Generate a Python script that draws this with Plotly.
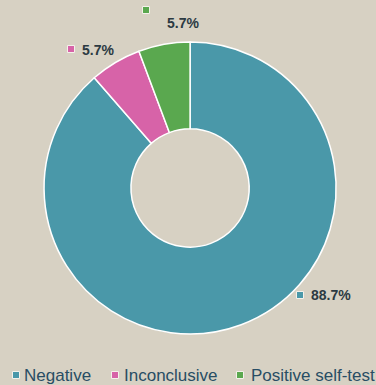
import plotly.graph_objects as go

categories = ["Negative", "Inconclusive", "Positive self-test"]
shares = [88.7, 5.7, 5.7]
colors = ["#4a98a9", "#d763a8", "#5aa84f"]

BG = "#d7d1c3"
LABEL_COLOR = "#2c3a42"
LEGEND_COLOR = "#284d64"

W, H = 376, 385

fig = go.Figure(
    go.Pie(
        labels=categories,
        values=shares,
        sort=False,
        direction="clockwise",
        rotation=0,
        hole=0.405,
        marker=dict(colors=colors, line=dict(color="white", width=1.5)),
        textinfo="none",
        hoverinfo="label+value",
        domain=dict(x=[0.117, 0.894], y=[0.1325, 0.891]),
        showlegend=False,
    )
)


def px(x):
    return x / W


def py(y):
    return 1 - y / H


def key_square(cx, cy, col, size=7):
    # small colour key with a thin light outline, sized in pixels
    fig.add_shape(
        type="rect", xref="paper", yref="paper",
        xsizemode="pixel", ysizemode="pixel",
        xanchor=px(cx), yanchor=py(cy),
        x0=-size / 2, x1=size / 2, y0=-size / 2, y1=size / 2,
        fillcolor=col, line=dict(color="#f4f1ea", width=1),
    )


# value labels, each with its colour key: (square cx, cy, text cx, cy) in px
label_spots = [
    (300, 295, 331, 295),
    (71, 49, 98, 50),
    (146, 10, 183, 23),
]
for val, col, (sx, sy, tx, ty) in zip(shares, colors, label_spots):
    key_square(sx, sy, col)
    fig.add_annotation(
        x=px(tx), y=py(ty), xref="paper", yref="paper", showarrow=False,
        text=f"<b>{val}%</b>",
        font=dict(size=14, color=LABEL_COLOR, family="Liberation Sans"),
        xanchor="center", yanchor="middle",
    )

# horizontal key along the bottom: (square cx, text left) in px
legend_spots = [(16, 22), (115, 122), (240, 249)]
for cat, col, (sx, tx) in zip(categories, colors, legend_spots):
    key_square(sx, 375, col)
    fig.add_annotation(
        x=px(tx), y=py(375), xref="paper", yref="paper", showarrow=False,
        text=cat,
        font=dict(size=17, color=LEGEND_COLOR, family="Liberation Sans"),
        xanchor="left", yanchor="middle",
    )

fig.update_layout(
    width=W,
    height=H,
    paper_bgcolor=BG,
    plot_bgcolor=BG,
    margin=dict(l=0, r=0, t=0, b=0, autoexpand=False),
    showlegend=False,
    font=dict(family="Liberation Sans"),
)

fig.write_html("out.html")
